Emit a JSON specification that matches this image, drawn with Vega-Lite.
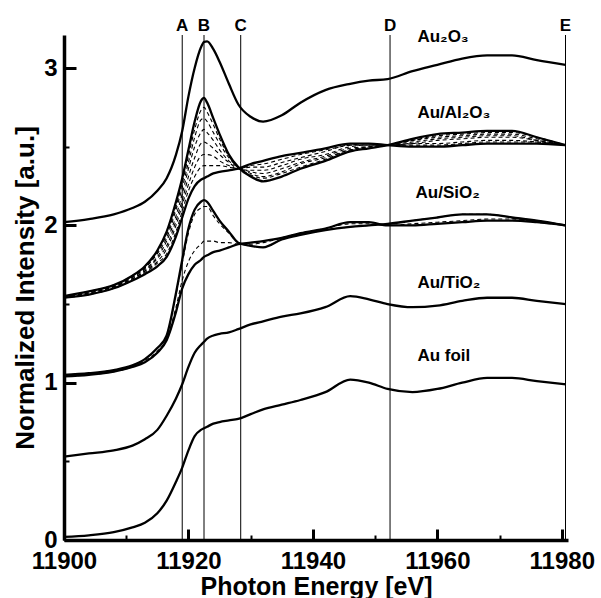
{
  "$schema": "https://vega.github.io/schema/vega-lite/v6.json",
  "width": 504,
  "height": 505,
  "autosize": {"type": "none"},
  "padding": {"left": 64, "top": 35, "right": 33, "bottom": 58},
  "background": "white",
  "config": {
    "view": {"stroke": null},
    "font": "Liberation Sans",
    "axis": {"labelFont": "Liberation Sans", "titleFont": "Liberation Sans", "grid": false, "tickColor": "black", "domainColor": "black", "labelColor": "black", "titleColor": "black"}
  },
  "resolve": {"axis": {"x": "independent", "y": "independent"}},
  "datasets": {
    "refs": [
      {"lab": "A", "e": 11919},
      {"lab": "B", "e": 11922.5},
      {"lab": "C", "e": 11928.4},
      {"lab": "D", "e": 11952.4},
      {"lab": "E", "e": 11980.6}
    ],
    "labels": [
      {"t": "Au₂O₃", "e": 11956.8, "v": 3.165},
      {"t": "Au/Al₂O₃", "e": 11956.8, "v": 2.685},
      {"t": "Au/SiO₂", "e": 11956.5, "v": 2.174},
      {"t": "Au/TiO₂", "e": 11956.8, "v": 1.604},
      {"t": "Au foil", "e": 11956.8, "v": 1.136}
    ],
    "solid": [
      {"e": 11900, "a": 2.02, "lt": 1.55, "lb": 1.54, "st": 1.05, "sb": 1.04, "ti": 0.53, "fo": 0.02},
      {"e": 11904, "a": 2.04, "lt": 1.58, "lb": 1.56, "st": 1.06, "sb": 1.05, "ti": 0.55, "fo": 0.03},
      {"e": 11908, "a": 2.07, "lt": 1.62, "lb": 1.60, "st": 1.08, "sb": 1.07, "ti": 0.57, "fo": 0.05},
      {"e": 11911, "a": 2.11, "lt": 1.68, "lb": 1.65, "st": 1.11, "sb": 1.10, "ti": 0.60, "fo": 0.08},
      {"e": 11913, "a": 2.15, "lt": 1.74, "lb": 1.69, "st": 1.15, "sb": 1.13, "ti": 0.64, "fo": 0.11},
      {"e": 11915, "a": 2.22, "lt": 1.84, "lb": 1.74, "st": 1.22, "sb": 1.19, "ti": 0.70, "fo": 0.17},
      {"e": 11916.5, "a": 2.30, "lt": 1.96, "lb": 1.80, "st": 1.30, "sb": 1.27, "ti": 0.79, "fo": 0.25},
      {"e": 11918, "a": 2.45, "lt": 2.15, "lb": 1.93, "st": 1.57, "sb": 1.45, "ti": 0.90, "fo": 0.37},
      {"e": 11919, "a": 2.60, "lt": 2.30, "lb": 2.05, "st": 1.78, "sb": 1.60, "ti": 0.99, "fo": 0.46},
      {"e": 11920, "a": 2.82, "lt": 2.48, "lb": 2.17, "st": 1.98, "sb": 1.69, "ti": 1.10, "fo": 0.57},
      {"e": 11921, "a": 3.00, "lt": 2.66, "lb": 2.25, "st": 2.10, "sb": 1.75, "ti": 1.19, "fo": 0.66},
      {"e": 11922, "a": 3.13, "lt": 2.79, "lb": 2.29, "st": 2.15, "sb": 1.78, "ti": 1.24, "fo": 0.70},
      {"e": 11922.5, "a": 3.165, "lt": 2.81, "lb": 2.30, "st": 2.16, "sb": 1.80, "ti": 1.26, "fo": 0.71},
      {"e": 11923, "a": 3.17, "lt": 2.78, "lb": 2.31, "st": 2.15, "sb": 1.81, "ti": 1.28, "fo": 0.72},
      {"e": 11924, "a": 3.12, "lt": 2.68, "lb": 2.33, "st": 2.09, "sb": 1.83, "ti": 1.30, "fo": 0.74},
      {"e": 11925, "a": 3.04, "lt": 2.58, "lb": 2.34, "st": 2.03, "sb": 1.84, "ti": 1.31, "fo": 0.75},
      {"e": 11926.5, "a": 2.90, "lt": 2.45, "lb": 2.35, "st": 1.96, "sb": 1.86, "ti": 1.32, "fo": 0.76},
      {"e": 11928, "a": 2.77, "lt": 2.37, "lb": 2.36, "st": 1.89, "sb": 1.88, "ti": 1.34, "fo": 0.77},
      {"e": 11930, "a": 2.69, "lt": 2.31, "lb": 2.39, "st": 1.87, "sb": 1.89, "ti": 1.37, "fo": 0.80},
      {"e": 11932, "a": 2.66, "lt": 2.28, "lb": 2.41, "st": 1.86, "sb": 1.90, "ti": 1.39, "fo": 0.83},
      {"e": 11935, "a": 2.70, "lt": 2.31, "lb": 2.44, "st": 1.91, "sb": 1.92, "ti": 1.42, "fo": 0.86},
      {"e": 11938, "a": 2.78, "lt": 2.36, "lb": 2.46, "st": 1.94, "sb": 1.95, "ti": 1.44, "fo": 0.89},
      {"e": 11942, "a": 2.86, "lt": 2.41, "lb": 2.49, "st": 1.97, "sb": 1.98, "ti": 1.48, "fo": 0.94},
      {"e": 11946, "a": 2.90, "lt": 2.47, "lb": 2.52, "st": 1.99, "sb": 2.02, "ti": 1.55, "fo": 1.02},
      {"e": 11949, "a": 2.92, "lt": 2.49, "lb": 2.52, "st": 2.00, "sb": 2.02, "ti": 1.53, "fo": 1.00},
      {"e": 11952, "a": 2.93, "lt": 2.51, "lb": 2.51, "st": 2.01, "sb": 2.00, "ti": 1.50, "fo": 0.96},
      {"e": 11956, "a": 2.98, "lt": 2.55, "lb": 2.50, "st": 2.03, "sb": 2.00, "ti": 1.48, "fo": 0.94},
      {"e": 11960, "a": 3.02, "lt": 2.58, "lb": 2.50, "st": 2.05, "sb": 2.01, "ti": 1.49, "fo": 0.96},
      {"e": 11964, "a": 3.06, "lt": 2.59, "lb": 2.51, "st": 2.07, "sb": 2.02, "ti": 1.52, "fo": 1.00},
      {"e": 11968, "a": 3.08, "lt": 2.60, "lb": 2.52, "st": 2.07, "sb": 2.03, "ti": 1.54, "fo": 1.03},
      {"e": 11972, "a": 3.08, "lt": 2.60, "lb": 2.52, "st": 2.05, "sb": 2.03, "ti": 1.54, "fo": 1.03},
      {"e": 11976, "a": 3.05, "lt": 2.56, "lb": 2.52, "st": 2.03, "sb": 2.02, "ti": 1.52, "fo": 1.01},
      {"e": 11980.6, "a": 3.02, "lt": 2.51, "lb": 2.51, "st": 2.00, "sb": 2.00, "ti": 1.50, "fo": 0.99}
    ],
    "dashed": [
      {"e": 11900, "l1": 1.54, "l2": 1.54, "l3": 1.54, "l4": 1.55, "l5": 1.55, "l6": 1.55, "s1": 1.04, "s2": 1.05},
      {"e": 11904, "l1": 1.56, "l2": 1.57, "l3": 1.57, "l4": 1.57, "l5": 1.58, "l6": 1.58, "s1": 1.05, "s2": 1.06},
      {"e": 11908, "l1": 1.60, "l2": 1.61, "l3": 1.61, "l4": 1.61, "l5": 1.62, "l6": 1.62, "s1": 1.07, "s2": 1.08},
      {"e": 11911, "l1": 1.65, "l2": 1.66, "l3": 1.66, "l4": 1.67, "l5": 1.67, "l6": 1.68, "s1": 1.10, "s2": 1.11},
      {"e": 11913, "l1": 1.70, "l2": 1.71, "l3": 1.71, "l4": 1.72, "l5": 1.73, "l6": 1.73, "s1": 1.14, "s2": 1.15},
      {"e": 11915, "l1": 1.76, "l2": 1.77, "l3": 1.79, "l4": 1.80, "l5": 1.82, "l6": 1.83, "s1": 1.20, "s2": 1.22},
      {"e": 11916.5, "l1": 1.82, "l2": 1.85, "l3": 1.87, "l4": 1.90, "l5": 1.92, "l6": 1.94, "s1": 1.28, "s2": 1.30},
      {"e": 11918, "l1": 1.96, "l2": 2.00, "l3": 2.03, "l4": 2.06, "l5": 2.10, "l6": 2.12, "s1": 1.48, "s2": 1.56},
      {"e": 11919, "l1": 2.09, "l2": 2.13, "l3": 2.16, "l4": 2.20, "l5": 2.24, "l6": 2.27, "s1": 1.65, "s2": 1.76},
      {"e": 11920, "l1": 2.22, "l2": 2.26, "l3": 2.31, "l4": 2.36, "l5": 2.40, "l6": 2.44, "s1": 1.77, "s2": 1.95},
      {"e": 11921, "l1": 2.31, "l2": 2.37, "l3": 2.43, "l4": 2.50, "l5": 2.56, "l6": 2.61, "s1": 1.84, "s2": 2.07},
      {"e": 11922, "l1": 2.37, "l2": 2.44, "l3": 2.52, "l4": 2.59, "l5": 2.67, "l6": 2.73, "s1": 1.88, "s2": 2.11},
      {"e": 11922.5, "l1": 2.38, "l2": 2.45, "l3": 2.53, "l4": 2.61, "l5": 2.68, "l6": 2.75, "s1": 1.90, "s2": 2.12},
      {"e": 11923, "l1": 2.38, "l2": 2.45, "l3": 2.52, "l4": 2.59, "l5": 2.66, "l6": 2.72, "s1": 1.90, "s2": 2.12},
      {"e": 11924, "l1": 2.38, "l2": 2.44, "l3": 2.49, "l4": 2.54, "l5": 2.59, "l6": 2.64, "s1": 1.90, "s2": 2.06},
      {"e": 11925, "l1": 2.38, "l2": 2.41, "l3": 2.45, "l4": 2.48, "l5": 2.52, "l6": 2.55, "s1": 1.89, "s2": 2.01},
      {"e": 11926.5, "l1": 2.37, "l2": 2.38, "l3": 2.40, "l4": 2.41, "l5": 2.43, "l6": 2.44, "s1": 1.89, "s2": 1.95},
      {"e": 11928, "l1": 2.36, "l2": 2.36, "l3": 2.36, "l4": 2.37, "l5": 2.37, "l6": 2.37, "s1": 1.88, "s2": 1.89},
      {"e": 11930, "l1": 2.38, "l2": 2.37, "l3": 2.35, "l4": 2.34, "l5": 2.33, "l6": 2.32, "s1": 1.88, "s2": 1.87},
      {"e": 11932, "l1": 2.39, "l2": 2.37, "l3": 2.35, "l4": 2.33, "l5": 2.31, "l6": 2.30, "s1": 1.89, "s2": 1.86},
      {"e": 11935, "l1": 2.42, "l2": 2.40, "l3": 2.38, "l4": 2.36, "l5": 2.34, "l6": 2.33, "s1": 1.92, "s2": 1.91},
      {"e": 11938, "l1": 2.45, "l2": 2.43, "l3": 2.42, "l4": 2.40, "l5": 2.39, "l6": 2.37, "s1": 1.95, "s2": 1.94},
      {"e": 11942, "l1": 2.48, "l2": 2.47, "l3": 2.45, "l4": 2.44, "l5": 2.43, "l6": 2.42, "s1": 1.98, "s2": 1.97},
      {"e": 11946, "l1": 2.51, "l2": 2.51, "l3": 2.50, "l4": 2.49, "l5": 2.48, "l6": 2.48, "s1": 2.01, "s2": 1.99},
      {"e": 11949, "l1": 2.52, "l2": 2.51, "l3": 2.51, "l4": 2.50, "l5": 2.50, "l6": 2.49, "s1": 2.01, "s2": 2.00},
      {"e": 11952, "l1": 2.51, "l2": 2.51, "l3": 2.51, "l4": 2.51, "l5": 2.51, "l6": 2.51, "s1": 2.00, "s2": 2.01},
      {"e": 11956, "l1": 2.51, "l2": 2.52, "l3": 2.52, "l4": 2.53, "l5": 2.54, "l6": 2.54, "s1": 2.01, "s2": 2.03},
      {"e": 11960, "l1": 2.51, "l2": 2.52, "l3": 2.54, "l4": 2.55, "l5": 2.56, "l6": 2.57, "s1": 2.02, "s2": 2.05},
      {"e": 11964, "l1": 2.52, "l2": 2.53, "l3": 2.55, "l4": 2.56, "l5": 2.57, "l6": 2.58, "s1": 2.03, "s2": 2.07},
      {"e": 11968, "l1": 2.53, "l2": 2.54, "l3": 2.56, "l4": 2.57, "l5": 2.58, "l6": 2.59, "s1": 2.04, "s2": 2.07},
      {"e": 11972, "l1": 2.53, "l2": 2.54, "l3": 2.56, "l4": 2.57, "l5": 2.58, "l6": 2.59, "s1": 2.04, "s2": 2.05},
      {"e": 11976, "l1": 2.53, "l2": 2.53, "l3": 2.54, "l4": 2.54, "l5": 2.55, "l6": 2.56, "s1": 2.02, "s2": 2.03},
      {"e": 11980.6, "l1": 2.51, "l2": 2.51, "l3": 2.51, "l4": 2.51, "l5": 2.51, "l6": 2.51, "s1": 2.00, "s2": 2.00}
    ]
  },
  "layer": [
    {
      "data": {"name": "refs"},
      "mark": {"type": "rule", "color": "black", "strokeWidth": 1},
      "encoding": {
        "x": {"field": "e", "type": "quantitative", "scale": {"domain": [11900, 11981], "nice": false, "zero": false}, "axis": null}
      }
    },
    {
      "data": {"name": "refs"},
      "mark": {"type": "text", "fontSize": 17, "fontWeight": "bold", "align": "center", "baseline": "alphabetic", "color": "black"},
      "encoding": {
        "x": {"field": "e", "type": "quantitative", "scale": {"domain": [11900, 11981], "nice": false, "zero": false}, "axis": null},
        "y": {"datum": 3.237, "type": "quantitative", "scale": {"domain": [0, 3.21], "nice": false, "zero": false}, "axis": null},
        "text": {"field": "lab"}
      }
    },
    {
      "data": {"name": "dashed"},
      "transform": [{"fold": ["l1", "l2", "l3", "l4", "l5", "l6", "s1", "s2"], "as": ["c", "v"]}],
      "mark": {"type": "line", "color": "black", "strokeWidth": 1.1, "strokeDash": [4, 3], "interpolate": "monotone"},
      "encoding": {
        "x": {
          "field": "e", "type": "quantitative",
          "scale": {"domain": [11900, 11981], "nice": false, "zero": false},
          "axis": {"orient": "bottom", "values": [11900, 11920, 11940, 11960, 11980], "offset": -11, "tickSize": 11, "tickWidth": 3, "domain": false, "labels": false, "title": null}
        },
        "y": {
          "field": "v", "type": "quantitative",
          "scale": {"domain": [0, 3.21], "nice": false, "zero": false},
          "axis": {"orient": "left", "values": [0, 1, 2, 3], "offset": -12, "tickSize": 12, "tickWidth": 3, "domain": false, "labels": false, "title": null}
        },
        "detail": {"field": "c"}
      }
    },
    {
      "data": {"name": "solid"},
      "transform": [{"fold": ["a", "lt", "lb", "st", "sb", "ti", "fo"], "as": ["c", "v"]}],
      "mark": {"type": "line", "color": "black", "strokeWidth": 2.3, "interpolate": "monotone"},
      "encoding": {
        "x": {
          "field": "e", "type": "quantitative",
          "scale": {"domain": [11900, 11981], "nice": false, "zero": false},
          "axis": {
            "orient": "bottom",
            "title": "Photon Energy [eV]",
            "values": [11900, 11920, 11940, 11960, 11980],
            "format": "d",
            "domainWidth": 3.5,
            "ticks": false, "tickSize": 0,
            "labelPadding": 9,
            "labelFlush": false,
            "labelOverlap": false,
            "labelFontSize": 24, "labelFontWeight": "bold",
            "titleFontSize": 25, "titleFontWeight": "bold", "titlePadding": 1
          }
        },
        "y": {
          "field": "v", "type": "quantitative",
          "scale": {"domain": [0, 3.21], "nice": false, "zero": false},
          "axis": {
            "orient": "left",
            "title": "Normalized Intensity [a.u.]",
            "values": [0, 1, 2, 3],
            "domainWidth": 3.5,
            "ticks": false, "tickSize": 0,
            "labelPadding": 7,
            "labelFlush": false,
            "labelOverlap": false,
            "labelFontSize": 24, "labelFontWeight": "bold",
            "titleFontSize": 26, "titleFontWeight": "bold", "titlePadding": 5
          }
        },
        "detail": {"field": "c"}
      }
    },
    {
      "data": {"name": "labels"},
      "mark": {"type": "text", "fontSize": 17, "fontWeight": "bold", "align": "left", "baseline": "alphabetic", "color": "black"},
      "encoding": {
        "x": {
          "field": "e", "type": "quantitative",
          "scale": {"domain": [11900, 11981], "nice": false, "zero": false},
          "axis": {"orient": "bottom", "values": [11910, 11930, 11950, 11970], "offset": -5, "tickSize": 5, "tickWidth": 2, "domain": false, "labels": false, "title": null}
        },
        "y": {
          "field": "v", "type": "quantitative",
          "scale": {"domain": [0, 3.21], "nice": false, "zero": false},
          "axis": {"orient": "left", "values": [0.5, 1.5, 2.5], "offset": -5, "tickSize": 5, "tickWidth": 2, "domain": false, "labels": false, "title": null}
        },
        "text": {"field": "t"}
      }
    }
  ]
}
